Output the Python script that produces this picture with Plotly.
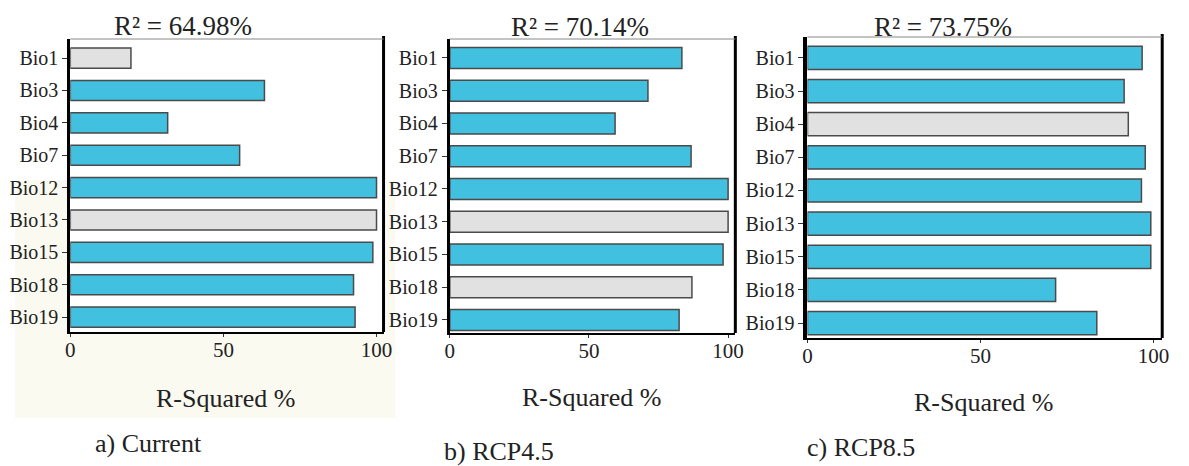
import plotly.graph_objects as go

variables = ["Bio1", "Bio3", "Bio4", "Bio7", "Bio12", "Bio13", "Bio15", "Bio18", "Bio19"]
current_vals = [19.8, 63.4, 31.8, 55.3, 100, 100, 98.8, 92.5, 93.0]
rcp45_vals = [83.4, 71.2, 59.4, 86.7, 100, 100, 98.2, 87.0, 82.4]
rcp85_vals = [96.7, 91.5, 92.7, 97.6, 96.5, 99.2, 99.2, 71.7, 83.6]
current_grey = ["Bio1", "Bio13"]
rcp45_grey = ["Bio13", "Bio18"]
rcp85_grey = ["Bio4"]
r2_titles = ["R² = 64.98%", "R² = 70.14%", "R² = 73.75%"]
panel_labels = ["a) Current", "b) RCP4.5", "c) RCP8.5"]
x_title = "R-Squared %"
x_ticks = [0, 50, 100]

# page body has an 8px margin; lay the figure out in window pixels
OFF = 8
W, H = 1189 - OFF, 466 - OFF
FONT = "Liberation Serif"
CYAN = "#41c0e0"
GREY = "#e1e1e1"
CREAM = "#fafaf0"


def px(x):
    return (x - OFF) / W


def py(y):
    return 1 - (y - OFF) / H


panels = [
    dict(l=66, r=383, t=39, b=332, xmax=102.3, yr=[8.46, -0.59], bw=0.62,
         title=(180, 26), xt=(223, 398), lab=(145, 443), vals=current_vals, grey=current_grey, lw=3),
    dict(l=450, r=739, t=39, b=333, xmax=102.6, yr=[8.4, -0.58], bw=0.64,
         title=(582, 27), xt=(593, 397), lab=(500, 451), vals=rcp45_vals, grey=rcp45_grey, lw=3),
    dict(l=812, r=1171, t=37, b=338, xmax=102.5, yr=[8.45, -0.63], bw=0.7,
         title=(949, 27), xt=(990, 402), lab=(866, 447), vals=rcp85_vals, grey=rcp85_grey, lw=4),
]

fig = go.Figure()
shapes = []
annotations = []

# cream background around the lower part of panel a
for (x0, x1, y0, y1) in [(10, 395, 334, 418), (10, 63, 180, 334), (386, 395, 180, 334)]:
    shapes.append(dict(type="rect", xref="paper", yref="paper", x0=px(x0), x1=px(x1),
                       y0=py(y1), y1=py(y0), fillcolor=CREAM, line=dict(width=0), layer="below"))

for i, p in enumerate(panels):
    sfx = "" if i == 0 else str(i + 1)
    colors = [GREY if v in p["grey"] else CYAN for v in variables]
    fig.add_trace(go.Bar(
        x=p["vals"], y=variables, orientation="h",
        marker=dict(color=colors, line=dict(color="#4a4a4a", width=1.5)),
        width=p["bw"], xaxis="x" + sfx, yaxis="y" + sfx, showlegend=False,
        hoverinfo="x+y",
    ))
    fig.update_layout(**{
        "xaxis" + sfx: dict(domain=[px(p["l"]), px(p["r"])], range=[0, p["xmax"]],
                             anchor="y" + sfx, tickvals=x_ticks, showgrid=False, zeroline=False,
                             showline=True, linecolor="black", linewidth=2,
                             ticks="outside", ticklen=3, tickcolor="#333",
                             ticklabelstandoff=-5,
                             tickfont=dict(family=FONT, size=21, color="#222")),
        "yaxis" + sfx: dict(domain=[py(p["b"]), py(p["t"])], range=p["yr"],
                             anchor="x" + sfx, type="category", showgrid=False,
                             showline=True, linecolor="black", linewidth=p["lw"],
                             ticks="outside", ticklen=5, tickcolor="#333",
                             tickfont=dict(family=FONT, size=20, color="#222")),
    })
    xd = ("x" + sfx) + " domain"
    yd = ("y" + sfx) + " domain"
    shapes.append(dict(type="line", xref=xd, yref=yd, x0=1, x1=1, y0=0, y1=1.01,
                       line=dict(color="black", width=3)))
    shapes.append(dict(type="line", xref=xd, yref=yd, x0=0, x1=1, y0=1, y1=1,
                       line=dict(color="#888", width=1)))
    annotations.append(dict(text=r2_titles[i], x=px(p["title"][0]), y=py(p["title"][1]),
                            xref="paper", yref="paper", showarrow=False, xanchor="center", yanchor="middle",
                            font=dict(family=FONT, size=27, color="#222")))
    annotations.append(dict(text=x_title, x=px(p["xt"][0]), y=py(p["xt"][1]),
                            xref="paper", yref="paper", showarrow=False, xanchor="center", yanchor="middle",
                            font=dict(family=FONT, size=26, color="#222")))
    annotations.append(dict(text=panel_labels[i], x=px(p["lab"][0]), y=py(p["lab"][1]),
                            xref="paper", yref="paper", showarrow=False, xanchor="center", yanchor="middle",
                            font=dict(family=FONT, size=26, color="#222")))

fig.update_layout(width=W, height=H, margin=dict(l=0, r=0, t=0, b=0),
                  paper_bgcolor="white", plot_bgcolor="white",
                  shapes=shapes, annotations=annotations, bargap=0.4)

fig.write_html("out.html")
